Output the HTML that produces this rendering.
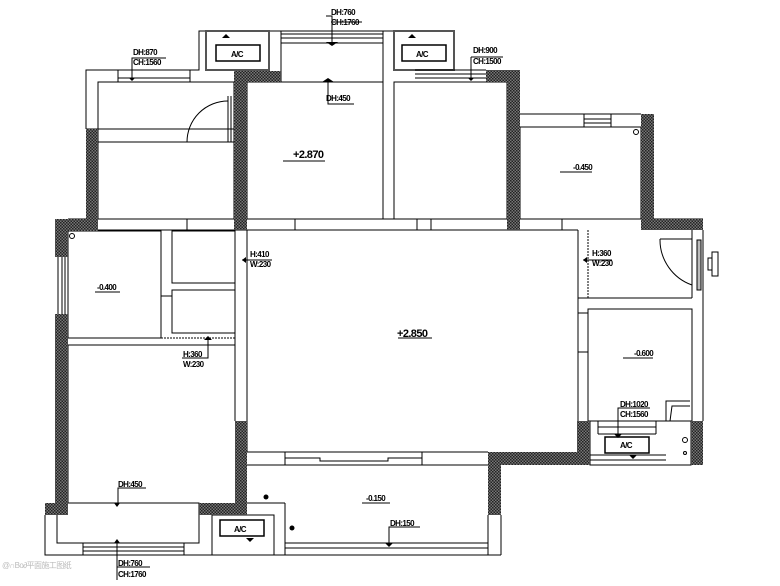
<!DOCTYPE html>
<html><head><meta charset="utf-8"><style>
html,body{margin:0;padding:0;background:#fff;}
svg{display:block;}
text{font-family:"Liberation Sans",sans-serif;font-weight:bold;font-size:8px;fill:#000;letter-spacing:-0.6px;}
</style></head><body>
<svg width="780" height="586" viewBox="0 0 780 586" xmlns="http://www.w3.org/2000/svg">
<defs>
<pattern id="h" width="3" height="3" patternUnits="userSpaceOnUse">
<rect width="3" height="3" fill="#777"/><rect width="1.5" height="1.5" fill="#222"/><rect x="1.5" y="1.5" width="1.5" height="1.5" fill="#222"/>
</pattern>
</defs>
<g fill="none" stroke="#000" stroke-width="1">
<polyline points="86,129 86,70 199,70 199,31 394,31 394,70"/>
<line x1="98" y1="82" x2="234" y2="82"/>
<line x1="118" y1="70" x2="118" y2="82"/><line x1="190" y1="70" x2="190" y2="82"/>
<line x1="118" y1="78" x2="190" y2="78"/>
<rect x="206" y="31" width="63" height="39" stroke="#555" stroke-width="2"/>
<rect x="216" y="45" width="44" height="16" stroke-width="1.5"/>
<line x1="281" y1="31" x2="281" y2="82"/><line x1="383" y1="31" x2="383" y2="82"/>
<line x1="281" y1="34" x2="383" y2="34"/><line x1="281" y1="38" x2="383" y2="38"/><line x1="281" y1="43" x2="383" y2="43"/>
<line x1="281" y1="82" x2="383" y2="82"/>
<rect x="394" y="31" width="60" height="39" stroke="#555" stroke-width="2"/>
<rect x="402" y="45" width="44" height="16" stroke-width="1.5"/>
<line x1="415" y1="70" x2="486" y2="70"/><line x1="415" y1="74" x2="486" y2="74"/><line x1="415" y1="78" x2="486" y2="78"/>
<rect x="98" y="82" width="136" height="137"/>
<line x1="86" y1="129" x2="234" y2="129"/><line x1="98" y1="142" x2="234" y2="142"/>
<path d="M228,101 A41,41 0 0 0 187,142"/><line x1="228" y1="96" x2="228" y2="142"/><line x1="231" y1="96" x2="231" y2="142"/>
<rect x="247" y="82" width="136" height="137"/>
<rect x="394" y="82" width="113" height="137"/>
<rect x="520" y="127" width="121" height="92"/>
<line x1="520" y1="114" x2="641" y2="114"/>
<line x1="584" y1="114" x2="584" y2="127"/><line x1="611" y1="114" x2="611" y2="127"/>
<line x1="584" y1="119" x2="611" y2="119"/><line x1="584" y1="123" x2="611" y2="123"/>
<circle cx="636" cy="132" r="2.5"/>
<line x1="68" y1="219" x2="703" y2="219"/>
<line x1="68" y1="230" x2="578" y2="230"/>
<line x1="187" y1="219" x2="187" y2="230"/><line x1="295" y1="219" x2="295" y2="230"/>
<line x1="417" y1="219" x2="417" y2="230"/><line x1="431" y1="219" x2="431" y2="230"/>
<line x1="562" y1="219" x2="562" y2="230"/>
<rect x="68" y="231" width="93" height="107"/>
<circle cx="72" cy="236" r="2.5"/>
<line x1="58" y1="257" x2="58" y2="314"/><line x1="62" y1="257" x2="62" y2="314"/><line x1="65" y1="257" x2="65" y2="314"/>
<rect x="172" y="231" width="63" height="52"/>
<rect x="172" y="290" width="63" height="43"/>
<line x1="161" y1="296" x2="172" y2="296"/>
<line x1="161" y1="338" x2="235" y2="338" stroke-dasharray="2,1"/>
<line x1="68" y1="345" x2="235" y2="345"/>
<line x1="235" y1="230" x2="235" y2="421"/><line x1="247" y1="230" x2="247" y2="452"/>
<line x1="68" y1="345" x2="68" y2="503"/>
<polyline points="45,515 45,555 274,555"/>
<rect x="57" y="503" width="142" height="40"/>
<line x1="83" y1="543" x2="83" y2="555"/><line x1="184" y1="543" x2="184" y2="555"/>
<line x1="83" y1="547" x2="184" y2="547"/><line x1="83" y1="551" x2="184" y2="551"/>
<rect x="212" y="515" width="62" height="40"/>
<rect x="220" y="520" width="44" height="16" stroke-width="1.5"/>
<line x1="247" y1="503" x2="285" y2="503"/><line x1="285" y1="503" x2="285" y2="555"/>
<line x1="578" y1="230" x2="578" y2="421"/>
<line x1="247" y1="452" x2="488" y2="452"/><line x1="247" y1="465" x2="488" y2="465"/>
<line x1="285" y1="452" x2="285" y2="465"/><line x1="422" y1="452" x2="422" y2="465"/>
<polyline points="285,458 320,458 320,461 388,461 388,458 422,458"/>
<line x1="274" y1="555" x2="501" y2="555"/>
<line x1="501" y1="515" x2="501" y2="555"/>
<line x1="285" y1="543" x2="488" y2="543"/><line x1="285" y1="548" x2="488" y2="548"/>
<line x1="488" y1="515" x2="488" y2="555"/>
<rect x="588" y="309" width="104" height="112"/>
<line x1="578" y1="298" x2="692" y2="298"/>
<line x1="588" y1="230" x2="588" y2="298" stroke-dasharray="2,1"/>
<line x1="692" y1="230" x2="692" y2="298"/><line x1="703" y1="230" x2="703" y2="421"/>
<path d="M660,239 A48,48 0 0 0 692,285"/>
<line x1="660" y1="239" x2="692" y2="239"/>
<rect x="697" y="240" width="4" height="50" fill="#bbb"/>
<path d="M712,252 L718,252 L718,276 L712,276 Z M712,258 L708,258 L708,270 L712,270"/>
<line x1="578" y1="313" x2="588" y2="313"/><line x1="578" y1="352" x2="588" y2="352"/>
<path d="M666,421 L666,401 L690,401 M670,421 L672,406 L690,406"/>
<rect x="590" y="421" width="101" height="44"/>
<line x1="598" y1="421" x2="656" y2="421"/><line x1="598" y1="427" x2="656" y2="427"/><line x1="598" y1="434" x2="656" y2="434"/>
<line x1="598" y1="421" x2="598" y2="434"/><line x1="656" y1="421" x2="656" y2="434"/>
<rect x="605" y="437" width="44" height="16" stroke-width="1.5"/>
<line x1="590" y1="455" x2="666" y2="455"/><line x1="590" y1="460" x2="666" y2="460"/>
<circle cx="685" cy="440" r="2.5"/><circle cx="685" cy="453" r="1.5"/>
<polyline points="326,16 332,16 332,43" /><line x1="331" y1="22" x2="362" y2="22"/>
<polyline points="134,58 132,58 132,78" /><line x1="132" y1="58" x2="166" y2="58"/>
<polyline points="328,82 328,104 354,104"/>
<polyline points="471,57 471,78"/><line x1="471" y1="57" x2="503" y2="57"/>
<polyline points="242,260 272,260"/>
<polyline points="583,260 612,260"/>
<polyline points="208,337 208,358 182,358"/>
<polyline points="118,503 118,488 146,488"/>
<polyline points="117,543 117,580"/><line x1="117" y1="567" x2="150" y2="567"/>
<polyline points="618,434 618,408 650,408"/>
<polyline points="389,543 389,527 420,527"/>
<line x1="283" y1="161" x2="325" y2="161"/><line x1="560" y1="172" x2="592" y2="172"/>
<line x1="95" y1="292" x2="120" y2="292"/><line x1="398" y1="338" x2="432" y2="338"/>
<line x1="362" y1="503" x2="390" y2="503"/><line x1="623" y1="358" x2="653" y2="358"/>
</g>
<g fill="#000">
<circle cx="266" cy="497" r="2.5"/><circle cx="292" cy="528" r="2.5"/>
<path d="M326,42 L332,46 L338,42Z M322,82 L328,78 L334,82Z M129,78 L132,81 L135,78Z M468,78 L471,81 L474,78Z M204,340 L208,336 L212,340Z M114,543 L117,539 L120,543Z M114,503 L117,507 L120,503Z M242,260 L246,257 L246,263Z M583,260 L587,257 L587,263Z M614,434 L618,438 L622,434Z M385,543 L389,547 L393,543Z"/>
<path d="M222,38 L226,34 L230,38Z M408,38 L412,34 L416,38Z M246,538 L250,542 L254,538Z M629,455 L633,459 L637,455Z"/>
</g>
<g fill="url(#h)" stroke="none">
<rect x="234" y="71" width="13" height="159"/>
<rect x="234" y="71" width="47" height="11"/>
<rect x="86" y="129" width="12" height="102"/>
<rect x="56" y="219" width="42" height="12"/>
<rect x="486" y="70" width="34" height="12"/>
<rect x="507" y="70" width="13" height="160"/>
<rect x="641" y="114" width="13" height="116"/>
<rect x="641" y="219" width="62" height="11"/>
<rect x="55" y="219" width="13" height="38"/>
<rect x="55" y="314" width="13" height="201"/>
<rect x="45" y="503" width="23" height="12"/>
<rect x="235" y="421" width="12" height="94"/>
<rect x="199" y="503" width="48" height="12"/>
<rect x="488" y="452" width="13" height="63"/>
<rect x="488" y="452" width="102" height="13"/>
<rect x="577" y="421" width="13" height="44"/>
<rect x="691" y="421" width="12" height="44"/>
</g>
<text x="331" y="15">DH:760</text><text x="331" y="25">CH:1760</text>
<text x="133" y="55">DH:870</text><text x="133" y="65">CH:1560</text>
<text x="326" y="101">DH:450</text>
<text x="293" y="158" style="font-size:11px">+2.870</text>
<text x="231" y="57">A/C</text><text x="416" y="57">A/C</text>
<text x="473" y="53">DH:900</text><text x="473" y="64">CH:1500</text>
<text x="573" y="170">-0.450</text>
<text x="97" y="290">-0.400</text>
<text x="250" y="257">H:410</text><text x="250" y="267">W:230</text>
<text x="592" y="256">H:360</text><text x="592" y="266">W:230</text>
<text x="183" y="357">H:360</text><text x="183" y="367">W:230</text>
<text x="397" y="337" style="font-size:11px">+2.850</text>
<text x="634" y="356">-0.600</text>
<text x="620" y="407">DH:1020</text><text x="620" y="417">CH:1560</text>
<text x="620" y="448">A/C</text>
<text x="118" y="487">DH:450</text>
<text x="234" y="532">A/C</text>
<text x="366" y="501">-0.150</text>
<text x="390" y="526">DH:150</text>
<text x="118" y="566">DH:760</text><text x="118" y="577">CH:1760</text>
<text x="2" y="568" style="fill:#bbb;font-weight:normal">@∩Bo∂平面施工图纸</text>
</svg>
</body></html>
